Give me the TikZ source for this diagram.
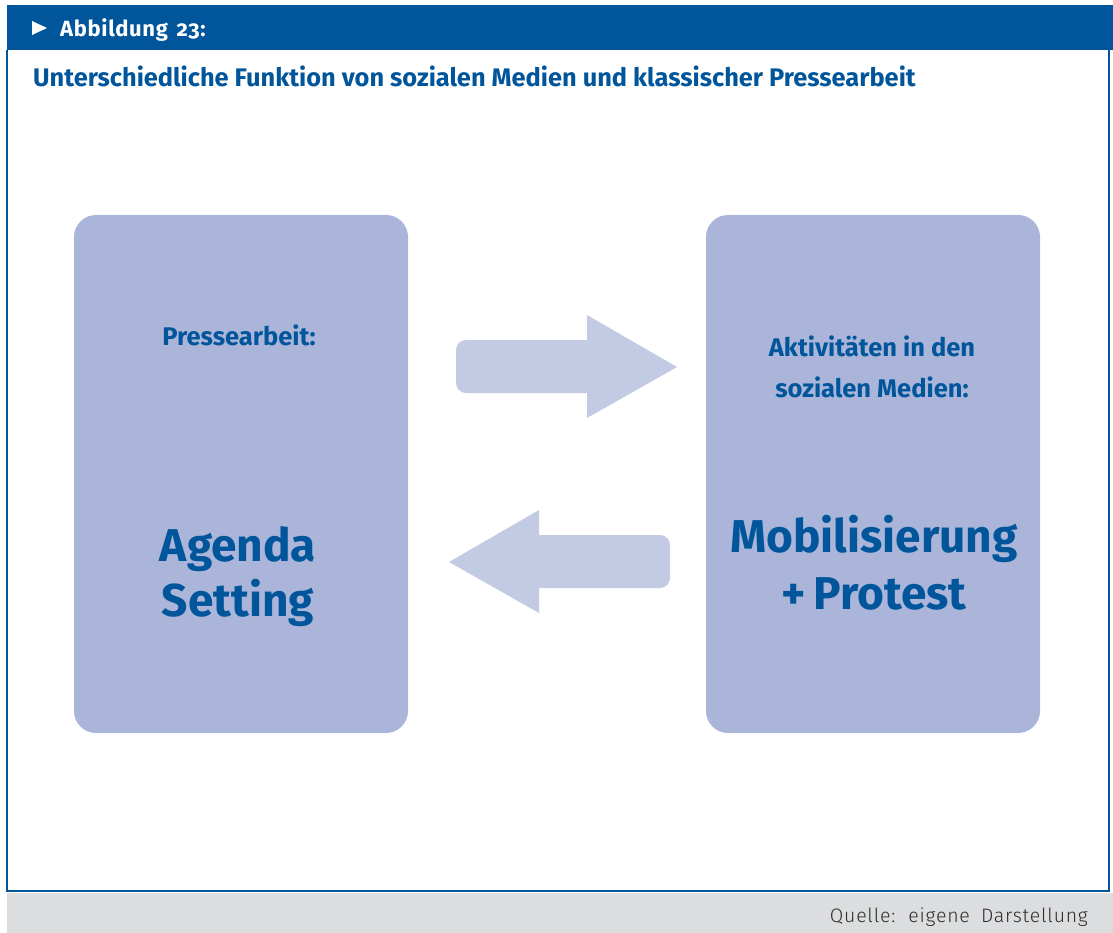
\documentclass[tikz,border=0pt]{standalone}
\usepackage{fontspec}
\setmainfont{Fira Sans}
\newfontfamily\lightfont{Fira Sans Light}[LetterSpace=4]
\newfontfamily\oldnum{Fira Sans}[Numbers=OldStyle,LetterSpace=3]
\definecolor{hblue}{RGB}{0,85,155}
\definecolor{boxfill}{RGB}{170,181,217}
\definecolor{arrfill}{RGB}{195,203,228}
\definecolor{footgray}{RGB}{220,221,223}
\definecolor{foottext}{RGB}{45,45,45}
\tikzset{
  bigbox/.style={fill=boxfill, rounded corners=22pt, minimum width=334pt, minimum height=518pt, inner sep=0pt},
  bluetxt/.style={text=hblue, inner sep=0pt, anchor=base},
  arrowpart/.style={fill=arrfill}
}
\begin{document}
\begin{tikzpicture}[x=1pt,y=-1pt]
\useasboundingbox (0,0) rectangle (1113,933);
\fill[white] (0,0) rectangle (1113,933);
\fill[footgray] (7,893) rectangle (1113,933);
\draw[hblue, line width=1.5pt] (7,50) -- (7,891) -- (1109,891) -- (1109,50);
\fill[hblue] (7,5) rectangle (1113,50);
\fill[white] (32,21) -- (47,28) -- (32,35) -- cycle;
\node[anchor=base west, text=white, inner sep=0pt, font=\oldnum\bfseries\fontsize{22}{26}\selectfont] (hdr) at (60,37) {Abbildung\hspace{0.4em}23:};
\node[anchor=base west, text=hblue, inner sep=0pt, font=\bfseries\fontsize{25.4}{30}\selectfont] (title) at (33,87) {Unterschiedliche Funktion von sozialen Medien und klassischer Pressearbeit};

\node[bigbox] (left) at (241,474) {};
\node[bigbox] (right) at (873,474) {};

\node[bluetxt, font=\bfseries\fontsize{25.5}{30}\selectfont] (pa) at (239,345) {Pressearbeit:};
\node[bluetxt, font=\bfseries\fontsize{46}{54}\selectfont] (ag1) at (238,561) {Agenda};
\node[bluetxt, font=\bfseries\fontsize{46}{54}\selectfont] (ag2) at (238,616) {Setting};

\node[bluetxt, font=\bfseries\fontsize{25.5}{30}\selectfont] (ak1) at (872,356) {Aktivitäten in den};
\node[bluetxt, font=\bfseries\fontsize{25.5}{30}\selectfont] (ak2) at (872,397) {sozialen Medien:};
\node[bluetxt, font=\bfseries\fontsize{46}{54}\selectfont] (mo1) at (874,552) {Mobilisierung};
\node[bluetxt, font=\bfseries\fontsize{46}{54}\selectfont] (mo2) at (874,609) {+\,Protest};

\fill[arrowpart, rounded corners=10pt] (456,340) rectangle (600,393);
\fill[arrowpart] (587,315) -- (677,367) -- (587,418) -- cycle;
\fill[arrowpart, rounded corners=10pt] (525,535) rectangle (670,588);
\fill[arrowpart] (539,510) -- (449,562) -- (539,613) -- cycle;

\node[anchor=base east, text=foottext, inner sep=0pt, font=\lightfont\fontsize{19.5}{24}\selectfont] (src) at (1088,922) {Quelle:\hspace{0.25em} eigene\hspace{0.25em} Darstellung};
\end{tikzpicture}
\end{document}
